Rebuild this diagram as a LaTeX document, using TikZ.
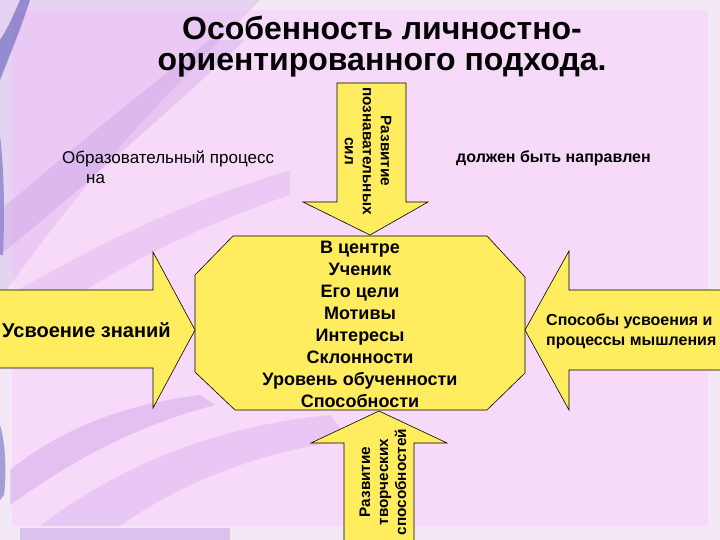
\documentclass[tikz,border=0pt]{standalone}
\usepackage{fontspec}
\setmainfont{Liberation Sans}
\definecolor{ylw}{RGB}{255,236,95}
\definecolor{bgpink}{RGB}{247,218,250}
\definecolor{outerbg}{RGB}{242,232,246}
\definecolor{purp}{RGB}{175,125,220}
\definecolor{dblue}{RGB}{70,70,175}
\tikzset{
  shapebox/.style={fill=ylw, draw=black, line width=0.6pt, line join=miter},
  lbl/.style={inner sep=0pt, text=black, align=center},
  streak/.style={fill=purp, draw=none}
}
\begin{document}
\begin{tikzpicture}[x=1pt, y=-1pt]
\useasboundingbox (0,0) rectangle (720,540);
% background
\fill[outerbg] (0,0) rectangle (720,540);
\fill[bgpink] (12,10) rectangle (708,526);
% streaks
\fill[streak, opacity=0.18] (0,0) -- (260,0) .. controls (180,80) and (90,170) .. (0,300) -- cycle;
\fill[dblue, opacity=0.5] (0,40) .. controls (8,28) and (14,14) .. (20,0) -- (30,0) .. controls (22,25) and (12,50) .. (0,80) -- cycle;
\fill[dblue, opacity=0.45] (0,135) .. controls (4,170) and (5,210) .. (3,255) -- (0,255) -- cycle;
\fill[streak, opacity=0.22] (0,210) .. controls (60,160) and (130,100) .. (210,40) -- (245,40) .. controls (170,110) and (80,190) .. (0,255) -- cycle;
\fill[streak, opacity=0.18] (0,300) .. controls (80,255) and (160,210) .. (290,170) -- (290,195) .. controls (170,235) and (80,290) .. (0,345) -- cycle;
\fill[streak, opacity=0.28] (10,470) .. controls (60,430) and (120,405) .. (200,395) -- (215,405) .. controls (140,425) and (80,455) .. (10,505) -- cycle;
\fill[streak, opacity=0.2] (40,526) .. controls (120,465) and (220,425) .. (330,415) -- (350,440) .. controls (250,452) and (170,490) .. (120,526) -- cycle;
\fill[dblue, opacity=0.45] (0,425) .. controls (5,440) and (7,470) .. (4,495) -- (0,500) -- cycle;
\fill[purp, opacity=0.35] (20,528) rectangle (230,540);
% title
\node[lbl, font=\bfseries\fontsize{32}{31}\selectfont] (title) at (382,47) {Особенность личностно-\\ориентированного подхода.};
% shapes
\draw[shapebox] (233,236) -- (487,236) -- (525,277) -- (525,373) -- (487,410) -- (235,410) -- (195,372) -- (195,275) -- cycle;
\draw[shapebox] (337,83) -- (406,83) -- (406,202) -- (428,202) -- (370,235) -- (303,202) -- (337,202) -- cycle;
\draw[shapebox] (344,542) -- (344,443) -- (311,443) -- (379,411) -- (447,443) -- (414,443) -- (414,542);
\draw[shapebox] (-2,290) -- (153,290) -- (153,252) -- (195,330) -- (153,408) -- (153,368) -- (-2,368);
\draw[shapebox] (722,290) -- (569,290) -- (569,251) -- (525,330) -- (569,410) -- (569,370) -- (722,370);
% texts
\node[lbl, font=\bfseries\fontsize{18}{22}\selectfont] (center) at (360,324) {В центре\\Ученик\\Его цели\\Мотивы\\Интересы\\Склонности\\Уровень обученности\\Способности};
\node[lbl, anchor=west, font=\bfseries\fontsize{20}{22}\selectfont] (left) at (2,330) {Усвоение знаний};
\node[lbl, anchor=west, align=left, font=\bfseries\fontsize{16}{20}\selectfont] (right) at (546,331) {Способы усвоения и\\процессы мышления};
\node[lbl, anchor=west, align=left, font=\fontsize{17}{20}\selectfont] (proc) at (62,167) {Образовательный процесс\\\hspace*{24pt}на};
\node[lbl, anchor=west, font=\bfseries\fontsize{16}{18}\selectfont] (dolzh) at (456,158) {должен быть направлен};
\node[lbl, rotate=-90, font=\bfseries\fontsize{15.3}{18}\selectfont] (top) at (368,151) {Развитие\\познавательных\\сил};
\node[lbl, rotate=90, font=\bfseries\fontsize{15.3}{18}\selectfont] (bottom) at (383,482) {Развитие\\творческих\\способностей};
\end{tikzpicture}
\end{document}
